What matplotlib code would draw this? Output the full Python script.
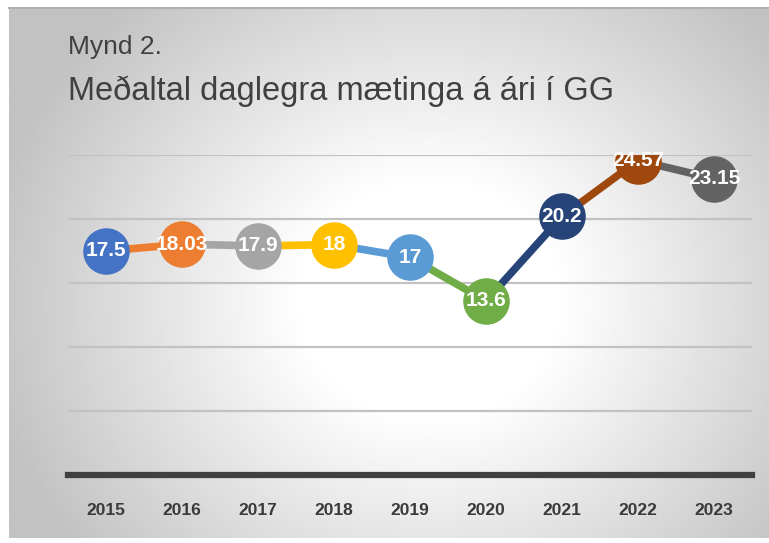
import numpy as np
import matplotlib.pyplot as plt
from matplotlib.lines import Line2D

years = ["2015", "2016", "2017", "2018", "2019", "2020", "2021", "2022", "2023"]
values = [17.5, 18.03, 17.9, 18, 17, 13.6, 20.2, 24.57, 23.15]
labels = ["17.5", "18.03", "17.9", "18", "17", "13.6", "20.2", "24.57", "23.15"]
colors = ["#4472C4", "#ED7D31", "#A5A5A5", "#FFC000", "#5B9BD5",
          "#70AD47", "#264478", "#9E480E", "#636363"]

plt.rcParams["font.family"] = ["Liberation Sans", "DejaVu Sans"]

W, H = 769, 543
fig = plt.figure(figsize=(W / 100, H / 100), dpi=100)

# chart area background (radial gradient, white centre -> gray edges)
x0, x1, y0, y1 = 9, 769, 8, 538
bg = fig.add_axes([x0 / W, 1 - y1 / H, (x1 - x0) / W, (y1 - y0) / H], zorder=0)
gx, gy = np.meshgrid(np.linspace(0, 1, 400), np.linspace(0, 1, 300))
cx, cy = (430 - x0) / (x1 - x0), (300 - y0) / (y1 - y0)
r = np.sqrt(((gx - cx) * 1.3) ** 2 + ((gy - cy) * 1.0) ** 2)
shade = 1 - np.clip((r - 0.22) / 0.55, 0, 1) * 0.24
bg.imshow(shade, cmap="gray", vmin=0, vmax=1, aspect="auto",
          extent=[0, 1, 0, 1], origin="upper")
bg.set_axis_off()
fig.add_artist(Line2D([x0 / W, 1], [1 - y0 / H, 1 - y0 / H], color="#b0b0b0", lw=1.5))

# plot area
px0, px1, pt, pb = 68, 752, 155, 475
ax = fig.add_axes([px0 / W, 1 - pb / H, (px1 - px0) / W, (pb - pt) / H], zorder=1)
ax.patch.set_alpha(0)
x = np.arange(len(years))
ax.set_xlim(-0.5, len(years) - 0.5)
ax.set_ylim(0, 25)
ax.set_yticks([5, 10, 15, 20, 25])
ax.yaxis.grid(True, color="#c2c2c2", lw=1.6)
ax.set_axisbelow(True)
for s in ["top", "right", "left"]:
    ax.spines[s].set_visible(False)
ax.spines["bottom"].set_color("#404040")
ax.spines["bottom"].set_linewidth(4.5)
ax.tick_params(axis="y", left=False, labelleft=False)
ax.tick_params(axis="x", length=0, pad=20)
ax.set_xticks(x)
ax.set_xticklabels(years, fontsize=12.5, fontweight="bold", color="#3a3a3a")

for i in range(1, len(x)):
    ax.plot(x[i - 1:i + 1], values[i - 1:i + 1], color=colors[i], lw=5.5,
            solid_capstyle="butt", zorder=2)
for i in range(len(x)):
    ax.plot(x[i], values[i], "o", ms=32.5, color=colors[i], mec=colors[i], zorder=3)
    ax.text(x[i], values[i], labels[i], ha="center", va="center", color="white",
            fontsize=15, fontweight="bold", zorder=4)

fig.text(68 / W, 1 - 47 / H, "Mynd 2.", fontsize=19, color="#404040", va="center")
fig.text(68 / W, 1 - 91 / H, "Meðaltal daglegra mætinga á ári í GG", fontsize=23.5,
         color="#404040", va="center")

fig.savefig("out.png", dpi=100)
